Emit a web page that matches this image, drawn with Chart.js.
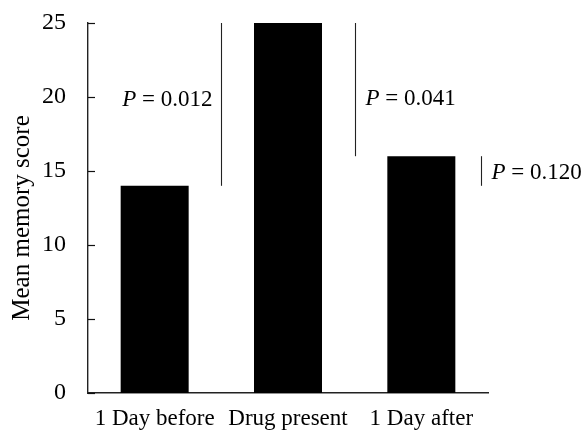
<!DOCTYPE html>
<html lang="en">
<head>
    <meta charset="UTF-8">
    <title>Mean memory score</title>
    <script src="https://cdn.jsdelivr.net/npm/chart.js"></script>
    <style>
        html, body { margin: 0; padding: 0; background: #fff; }
        #wrap { width: 584px; height: 432px; }
    </style>
</head>
<body>
    <div id="wrap"><canvas id="memoryChart"></canvas></div>
    <script>
        // data
        const categories = ['1 Day before', 'Drug present', '1 Day after'];
        const meanScores = [14, 25, 16];
        const yTicks = [0, 5, 10, 15, 20, 25];

        // pairwise comparisons: bracket line spans and p values
        const pValues = ['0.012', '0.041', '0.120'];
        const lineTop = [25, 25, 16];
        const lineBottom = [14, 16, 14];

        // where each bracket and its label sit (category index / value units)
        const lineAt = [0.5, 1.5, 2.45];
        const labelY = [19.8, 19.9, 14.9];
        const labelSide = ['left', 'right', 'right'];

        const serif = '"Liberation Serif", "Times New Roman", serif';

        function drawPLabel(ctx, value, x, y, side) {
            const italic = 'italic 23px ' + serif;
            const plain = '23px ' + serif;
            const rest = ' = ' + value;
            ctx.font = italic;
            const wP = ctx.measureText('P').width;
            ctx.font = plain;
            const wRest = ctx.measureText(rest).width;
            const x0 = side === 'left' ? x - 9 - (wP + wRest) : x + 10;
            ctx.textAlign = 'left';
            ctx.textBaseline = 'middle';
            ctx.fillStyle = '#000';
            ctx.font = italic;
            ctx.fillText('P', x0, y);
            ctx.font = plain;
            ctx.fillText(rest, x0 + wP, y);
        }

        const extras = {
            id: 'extras',
            afterDraw(chart) {
                const { ctx, chartArea, scales: { x, y } } = chart;
                ctx.save();

                // short tick marks pointing into the plot
                ctx.strokeStyle = '#111';
                ctx.lineWidth = 1.2;
                y.ticks.forEach(t => {
                    const py = Math.round(y.getPixelForValue(t.value)) + 0.5;
                    ctx.beginPath();
                    ctx.moveTo(chartArea.left, py);
                    ctx.lineTo(chartArea.left + 7, py);
                    ctx.stroke();
                });

                // comparison lines with p values
                ctx.strokeStyle = '#222';
                ctx.lineWidth = 1.1;
                pValues.forEach((p, i) => {
                    const px = Math.round(x.getPixelForValue(lineAt[i])) + 0.5;
                    ctx.beginPath();
                    ctx.moveTo(px, y.getPixelForValue(lineTop[i]));
                    ctx.lineTo(px, y.getPixelForValue(lineBottom[i]));
                    ctx.stroke();
                    drawPLabel(ctx, p, px, y.getPixelForValue(labelY[i]), labelSide[i]);
                });

                // y axis title
                ctx.translate(22, (chartArea.top + chartArea.bottom) / 2 + 10);
                ctx.rotate(-Math.PI / 2);
                ctx.textAlign = 'center';
                ctx.textBaseline = 'middle';
                ctx.fillStyle = '#000';
                ctx.font = '25px ' + serif;
                ctx.fillText('Mean memory score', 0, 0);
                ctx.restore();
            }
        };

        new Chart(document.getElementById('memoryChart'), {
            type: 'bar',
            data: {
                labels: categories,
                datasets: [{
                    data: meanScores,
                    backgroundColor: '#000',
                    borderWidth: 0,
                    barPercentage: 0.51,
                    categoryPercentage: 1
                }]
            },
            options: {
                responsive: true,
                maintainAspectRatio: false,
                animation: false,
                layout: { padding: { top: 23, right: 96, left: 0, bottom: 0 } },
                plugins: {
                    legend: { display: false },
                    tooltip: { enabled: false }
                },
                scales: {
                    x: {
                        grid: { display: false, drawTicks: false },
                        border: { color: '#222', width: 1.4 },
                        ticks: {
                            color: '#000',
                            padding: 12,
                            maxRotation: 0,
                            font: { family: serif, size: 23 }
                        },
                        afterFit(scale) {
                            scale.height = 39;
                            scale.paddingLeft = 0;
                            scale.paddingRight = 0;
                        }
                    },
                    y: {
                        min: 0,
                        max: 25,
                        afterBuildTicks(scale) { scale.ticks = yTicks.map(v => ({ value: v })); },
                        grid: { display: false, drawTicks: false },
                        border: { color: '#222', width: 1.4 },
                        ticks: {
                            color: '#000',
                            padding: 22,
                            font: { family: serif, size: 24 }
                        },
                        afterFit(scale) {
                            scale.width = 88;
                            scale.paddingTop = 0;
                            scale.paddingBottom = 0;
                        }
                    }
                }
            },
            plugins: [extras]
        });
    </script>
</body>
</html>
